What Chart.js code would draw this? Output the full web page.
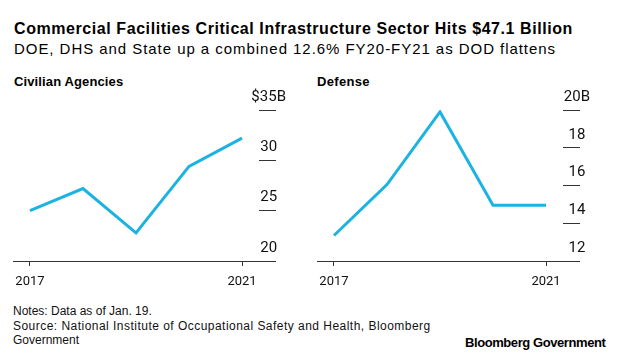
<!DOCTYPE html>
<html>
<head>
<meta charset="utf-8">
<script src="https://cdn.jsdelivr.net/npm/chart.js@4"></script>
<style>
  body { margin: 0; background: #fff; width: 620px; height: 358px; overflow: hidden; position: relative; font-family: "Liberation Sans", Arial, sans-serif; color: #000; }
  .t { position: absolute; white-space: nowrap; }
  #title { left: 14px; top: 20px; font-size: 16px; font-weight: bold; }
  #sub { left: 14px; top: 40px; font-size: 15px; }
  .ptitle { top: 74px; font-size: 13px; font-weight: bold; }
  .note { left: 13px; font-size: 12px; color: #111; }
  #brand { left: 465px; top: 335px; font-size: 13px; font-weight: bold; }
  canvas { position: absolute; top: 80px; }
</style>
</head>
<body>
<div class="t" id="title" data-w="558">Commercial Facilities Critical Infrastructure Sector Hits $47.1 Billion</div>
<div class="t" id="sub" data-w="541">DOE, DHS and State up a combined 12.6% FY20-FY21 as DOD flattens</div>
<div class="t ptitle" style="left:14px" data-w="109">Civilian Agencies</div>
<div class="t ptitle" style="left:317px" data-w="53">Defense</div>
<canvas id="civ" width="300" height="215" style="left:0px"></canvas>
<canvas id="def" width="300" height="215" style="left:304px"></canvas>
<div class="t note" style="top:304px">Notes: Data as of Jan. 19.</div>
<div class="t note" style="top:318.5px" data-w="417">Source: National Institute of Occupational Safety and Health, Bloomberg</div>
<div class="t note" style="top:333px">Government</div>
<div class="t" id="brand" data-w="141">Bloomberg Government</div>
<script>
const years = [2017, 2018, 2019, 2020, 2021];
const civilian = [25.0, 27.2, 22.8, 29.4, 32.2];
const defense = [13.35, 16.05, 19.9, 14.95, 14.95];
const xTickYears = [2017, 2021];
const civTicks = { min: 20, max: 35, step: 5, top: '$35B' };
const defTicks = { min: 12, max: 20, step: 2, top: '20B' };

const lineColor = '#1bb3e1';
const axisColor = '#333';

// stretch / squeeze text to the width it has in the original
document.querySelectorAll('[data-w]').forEach(el => {
  const target = +el.dataset.w;
  const n = el.textContent.length - 1;
  el.style.letterSpacing = ((target - el.offsetWidth) / n) + 'px';
});

function makeChart(id, values, yt) {
  new Chart(document.getElementById(id), {
    type: 'line',
    data: {
      datasets: [{
        data: years.map((y, i) => ({ x: y, y: values[i] })),
        borderColor: lineColor,
        borderWidth: 3,
        pointRadius: 0,
        tension: 0
      }]
    },
    options: {
      responsive: false,
      animation: false,
      layout: { padding: { left: 13, right: 1, top: 30, bottom: 4 } },
      plugins: { legend: { display: false }, tooltip: { enabled: false } },
      scales: {
        x: {
          type: 'linear',
          min: 2016.68,
          max: 2021.32,
          afterBuildTicks: s => { s.ticks = xTickYears.map(v => ({ value: v })); },
          afterFit: s => { s.height = 30; s.paddingLeft = 0; s.paddingRight = 0; },
          grid: { drawOnChartArea: false, tickLength: 5, color: axisColor },
          border: { display: true, color: axisColor, width: 1 },
          ticks: {
            callback: v => String(v),
            color: '#111',
            padding: 8,
            maxRotation: 0,
            font: { family: 'Roboto, "Liberation Sans", sans-serif', size: 13 }
          }
        },
        y: {
          position: 'right',
          min: yt.min,
          max: yt.max,
          afterFit: s => { s.width = 40; s.paddingTop = 0; s.paddingBottom = 0; },
          grid: { drawOnChartArea: false, tickLength: 17, color: axisColor },
          border: { display: false },
          ticks: {
            stepSize: yt.step,
            color: '#111',
            mirror: true,
            crossAlign: 'center',
            labelOffset: -13,
            padding: 27,
            callback: v => v === yt.max ? yt.top : String(v),
            font: { family: 'Roboto, "Liberation Sans", sans-serif', size: 15 }
          }
        }
      }
    }
  });
}

makeChart('civ', civilian, civTicks);
makeChart('def', defense, defTicks);
</script>
</body>
</html>
